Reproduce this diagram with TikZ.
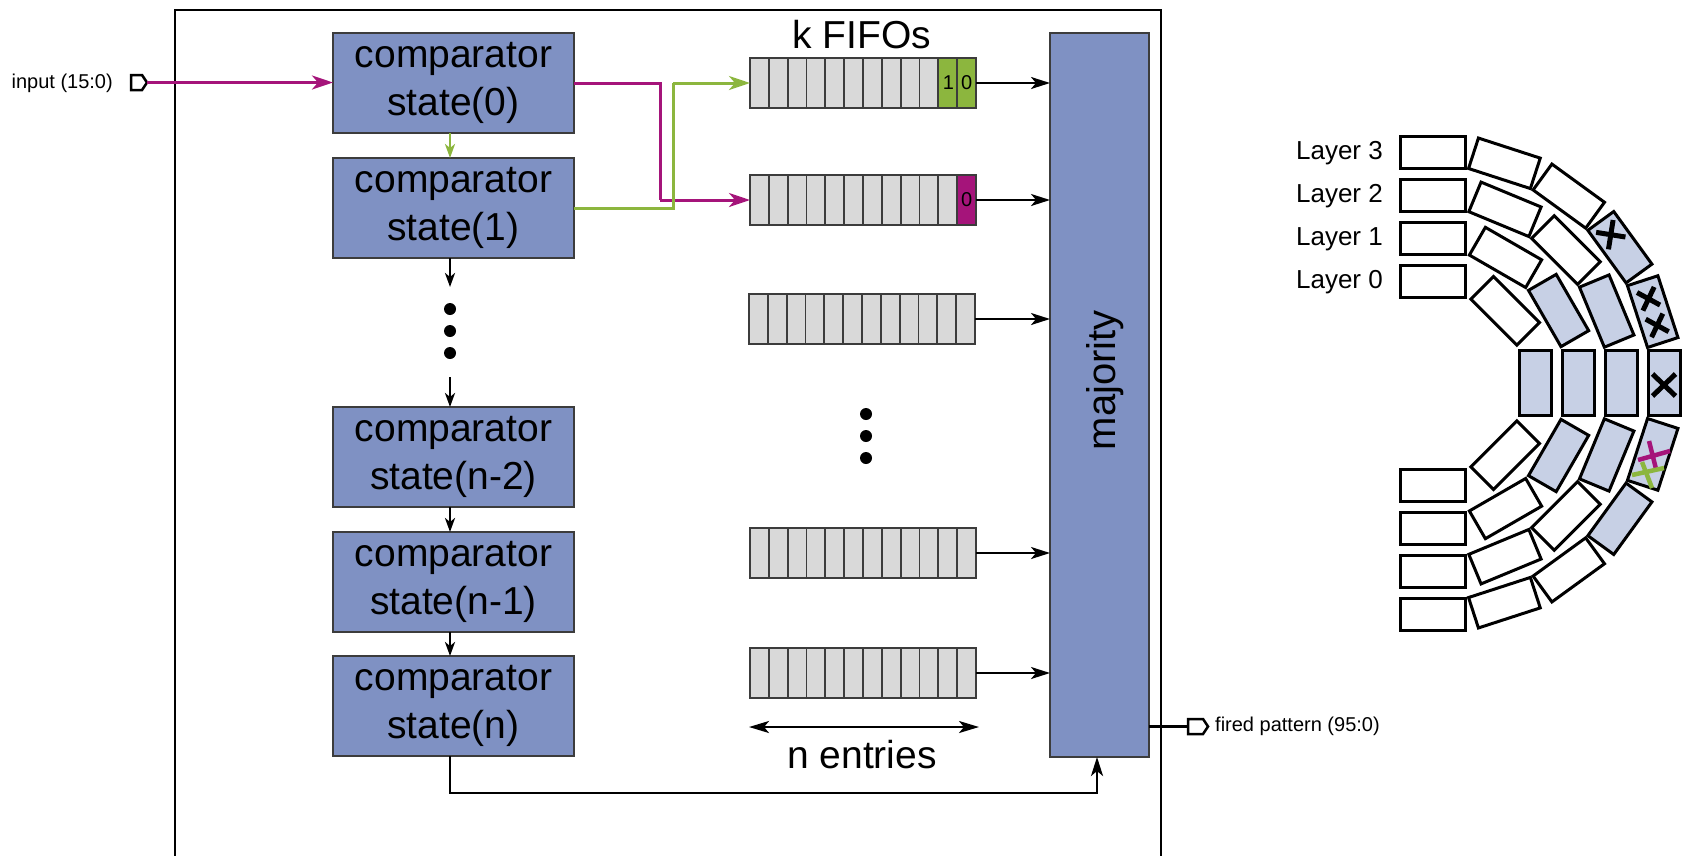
\documentclass[tikz,border=0pt]{standalone}
\usepackage{fontspec}
\setmainfont{Liberation Sans}
\usetikzlibrary{arrows.meta}

\definecolor{compblue}{RGB}{127,145,195}
\definecolor{cellgray}{RGB}{217,217,217}
\definecolor{sigmag}{RGB}{165,20,122}
\definecolor{siggreen}{RGB}{140,182,62}
\definecolor{hitblue}{RGB}{199,208,229}
\definecolor{edgegray}{RGB}{60,60,60}

\begin{document}
\begin{tikzpicture}[x=1pt,y=-1pt,
  comp/.style={draw=edgegray, line width=1.8pt, fill=compblue, minimum width=241pt,
    minimum height=100pt, inner sep=0pt, outer sep=0pt, align=center,
    font=\fontsize{39}{48}\selectfont},
  fifo/.style={draw=edgegray, line width=1.8pt, fill=cellgray, minimum width=226pt,
    minimum height=50pt, inner sep=0pt, outer sep=0pt},
  cell/.style={draw=edgegray, line width=1.8pt},
  digit/.style={font=\fontsize{20}{24}\selectfont, inner sep=0pt},
  bigtext/.style={font=\fontsize{39}{48}\selectfont, inner sep=0pt},
  smalltext/.style={font=\fontsize{20}{24}\selectfont, inner sep=0pt},
  laytext/.style={font=\fontsize{26}{30}\selectfont, inner sep=0pt},
  sig/.style={line width=3pt, -{Stealth[length=21pt,width=14pt,inset=6pt]}},
  blk/.style={line width=2.5pt, -{Stealth[length=19pt,width=12pt,inset=5pt]}},
  vstep/.style={line width=2.5pt, -{Stealth[length=14pt,width=10pt,inset=4pt]}},
  port/.style={draw, line width=2.5pt, fill=white},
  seg/.style={draw, line width=3pt, minimum width=65pt, minimum height=32pt,
    inner sep=0pt, outer sep=0pt},
  xmark/.style={line width=5pt},
  cmark/.style={line width=4.5pt},
  dot/.style={circle, fill=black, inner sep=0pt, minimum size=12pt}
]
\useasboundingbox (0,0) rectangle (1685,855);
\clip (0,0) rectangle (1685,855);

% enclosing block
\draw[line width=2.8pt] (175,10) rectangle (1161,900);

% comparator chain
\node[comp] (c0) at (453.5,83)  {comparator\\state(0)};
\node[comp] (c1) at (453.5,208) {comparator\\state(1)};
\node[comp] (c2) at (453.5,457) {comparator\\state(n-2)};
\node[comp] (c3) at (453.5,582) {comparator\\state(n-1)};
\node[comp] (c4) at (453.5,706) {comparator\\state(n)};

\node[dot] (v1) at (450,309) {};
\node[dot] (v2) at (450,331) {};
\node[dot] (v3) at (450,353) {};
\coordinate (gapA) at (450,287);
\coordinate (gapB) at (450,377);

\draw[vstep, siggreen] ([xshift=-3.5pt]c0.south) -- ([xshift=-3.5pt]c1.north);
\draw[vstep] ([xshift=-3.5pt]c1.south) -- (gapA);
\draw[vstep] (gapB) -- ([xshift=-3.5pt]c2.north);
\draw[vstep] ([xshift=-3.5pt]c2.south) -- ([xshift=-3.5pt]c3.north);
\draw[vstep] ([xshift=-3.5pt]c3.south) -- ([xshift=-3.5pt]c4.north);

% input port
\draw[port] (131,75) -- (142,75) -- (147,82.5) -- (142,90) -- (131,90) -- cycle;
\coordinate (inport) at (147,82.5);
\node[smalltext, anchor=east] (inlbl) at (113,83) {input (15:0)};
\draw[sig, sigmag] (inport) -- (inport -| c0.west);

% FIFOs
\node[bigtext, anchor=base] (ktitle) at (862,48) {k FIFOs};
\node[fifo] (f1) at (863,83) {};
\node[fifo] (f2) at (863,200) {};
\node[fifo] (f3) at (862,319) {};
\node[fifo] (f4) at (863,553) {};
\node[fifo] (f5) at (863,673) {};

\fill[siggreen] ([xshift=-37.67pt]f1.north east) rectangle (f1.south east);
\fill[sigmag] ([xshift=-18.83pt]f2.north east) rectangle (f2.south east);

\foreach \f in {f1,f2,f3,f4,f5}{
  \foreach \k in {1,...,11}
    \draw[cell] ([xshift=\k*18.833pt]\f.north west) -- ([xshift=\k*18.833pt]\f.south west);
  \draw[cell] (\f.north west) rectangle (\f.south east);
}
\node[digit] (d11) at ([xshift=-27.5pt]f1.east) {1};
\node[digit] (d10) at ([xshift=-9.4pt]f1.east) {0};
\node[digit] (d20) at ([xshift=-9.4pt]f2.east) {0};

\node[dot] (w1) at (866,414) {};
\node[dot] (w2) at (866,436) {};
\node[dot] (w3) at (866,458) {};

\coordinate (nl) at (749,727);
\coordinate (nr) at (979,727);
\draw[line width=2.5pt, {Stealth[length=20pt,width=12pt,inset=5pt]}-{Stealth[length=20pt,width=12pt,inset=5pt]}] (nl) -- (nr);
\node[bigtext, anchor=base] (nent) at (862,768) {n entries};

% majority voter
\node[draw=edgegray, line width=1.8pt, fill=compblue, minimum width=99pt,
  minimum height=724pt, inner sep=0pt, outer sep=0pt] (maj) at (1099.5,395) {};
\node[bigtext, rotate=90, font=\fontsize{40}{48}\selectfont] (majtxt) at (1105,380) {majority};

% routing comparators to FIFOs
\coordinate (mtap) at (660,0);
\coordinate (gtap) at (673,0);
\draw[sig, sigmag, -] (c0.east) -- (c0.east -| mtap) -- (mtap |- f2.west);
\draw[sig, sigmag] (mtap |- f2.west) -- (f2.west);
\draw[sig, siggreen, -] (c1.east) -- (c1.east -| gtap) -- (gtap |- f1.west);
\draw[sig, siggreen] (gtap |- f1.west) -- (f1.west);

% FIFOs into majority
\foreach \f in {f1,f2,f3,f4,f5}
  \draw[blk] (\f.east) -- (\f.east -| maj.west);

% feedback from the last comparator
\coordinate (fbrow) at (0,793);
\draw[blk] ([xshift=-3.5pt]c4.south) -- ([xshift=-3.5pt]c4.south |- fbrow)
  -| ([xshift=-2.5pt]maj.south);

% output port
\coordinate (outport) at (1188,726.5);
\draw[line width=2.5pt] (maj.east |- outport) -- (outport);
\draw[port] (1188,719) -- (1203,719) -- (1208,726.5) -- (1203,734) -- (1188,734) -- cycle;
\node[smalltext, anchor=west] (outlbl) at (1215,726) {fired pattern (95:0)};

% detector layers
\node[laytext, anchor=east] (l3) at (1383,153) {Layer 3};
\node[laytext, anchor=east] (l2) at (1383,196) {Layer 2};
\node[laytext, anchor=east] (l1) at (1383,239) {Layer 1};
\node[laytext, anchor=east] (l0) at (1383,282) {Layer 0};

\begin{scope}[shift={(1433,383)}, y=1pt]
  % layer 0
  \foreach \a/\f [count=\i] in {90/white,45/white,0/hitblue,-45/white,-90/white}
    \node[seg, fill=\f, rotate=\a-90] (sa\i) at (\a:102) {};
  % layer 1
  \foreach \a/\f [count=\i] in {90/white,60/white,30/hitblue,0/hitblue,-30/hitblue,-60/white,-90/white}
    \node[seg, fill=\f, rotate=\a-90] (sb\i) at (\a:145) {};
  % layer 2
  \foreach \a/\f [count=\i] in {90/white,67.5/white,45/white,22.5/hitblue,0/hitblue,
      -22.5/hitblue,-45/white,-67.5/white,-90/white}
    \node[seg, fill=\f, rotate=\a-90] (sc\i) at (\a:188) {};
  % layer 3
  \foreach \a/\f [count=\i] in {90/white,72/white,54/white,36/hitblue,18/hitblue,0/hitblue,
      -18/hitblue,-36/hitblue,-54/white,-72/white,-90/white}
    \node[seg, fill=\f, rotate=\a-90] (sd\i) at (\a:231) {};

  % hit crosses on the outer layer
  \begin{scope}[shift={(36:231)}, rotate=-54]
    \draw[xmark] (-26,-10.5) -- (-5,10.5) (-26,10.5) -- (-5,-10.5);
  \end{scope}
  \begin{scope}[shift={(18:231)}, rotate=-72]
    \draw[xmark] (-23,-9) -- (-4,9) (-23,9) -- (-4,-9);
    \draw[xmark] (5,-9) -- (24,9) (5,9) -- (24,-9);
  \end{scope}
  \begin{scope}[shift={(0:231)}, rotate=-90]
    \draw[xmark] (-9,-11.5) -- (13,11.5) (-9,11.5) -- (13,-11.5);
  \end{scope}
\end{scope}

\draw[cmark, sigmag] (1638,460) -- (1670,451) (1649,441) -- (1656,469);
\draw[cmark, siggreen] (1632,475) -- (1664,468) (1642,462) -- (1652,488);
\end{tikzpicture}
\end{document}
